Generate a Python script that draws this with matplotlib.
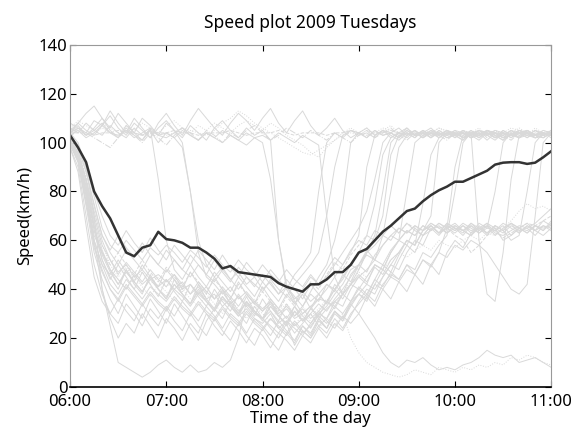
import matplotlib
matplotlib.use("Agg")
import matplotlib.pyplot as plt

plt.rcParams['font.family'] = ['Noto Sans', 'DejaVu Sans']

# 5-minute samples from 06:00 to 11:00
minutes = list(range(0, 301, 5))
hour_ticks = [0, 60, 120, 180, 240, 300]
hour_labels = ["06:00", "07:00", "08:00", "09:00", "10:00", "11:00"]

mean_speed = [103, 98, 92, 80, 74, 69, 62, 55, 53.5, 57, 58, 63.5,
              60.5, 60, 59, 57, 57, 55, 52.5, 48.5, 49.5, 47, 46.5, 46,
              45.5, 45, 42.5, 41, 40, 39, 42, 42, 44, 47, 47, 50,
              55, 56.5, 60, 63.5, 66, 69, 72, 73, 76, 78.5, 80.5, 82,
              84, 84, 85.5, 87, 88.5, 91, 91.8, 92, 92, 91.3, 91.8, 94, 96.5]

day_a = [100, 96, 85, 70, 58, 52, 47, 50, 45, 48, 44, 46,
         43, 46, 40, 42, 38, 41, 36, 39, 34, 37, 33, 35,
         31, 34, 29, 32, 28, 30, 33, 36, 35, 40, 44, 50,
         55, 62, 75, 95, 102, 104, 103, 105, 102, 104, 103, 105,
         103, 104, 102, 105, 103, 104, 102, 103, 105, 104, 103, 102, 104]
day_b = [101, 95, 80, 62, 55, 48, 44, 40, 46, 42, 45, 41,
         44, 40, 43, 38, 41, 36, 38, 33, 36, 31, 34, 30,
         28, 31, 26, 29, 25, 28, 24, 30, 33, 38, 42, 48,
         50, 54, 52, 58, 62, 65, 63, 66, 64, 67, 65, 66,
         64, 66, 63, 67, 65, 64, 66, 62, 65, 63, 66, 64, 68]
day_c = [104, 100, 90, 70, 40, 25, 10, 8, 6, 4, 6, 9,
         11, 8, 6, 9, 6, 7, 10, 8, 11, 20, 35, 30,
         28, 25, 22, 27, 24, 21, 26, 30, 28, 35, 33, 40,
         45, 42, 50, 48, 55, 60, 58, 65, 62, 64, 66, 63,
         65, 64, 62, 66, 63, 65, 60, 62, 65, 67, 64, 66, 65]
day_d = [104, 105, 103, 104, 106, 104, 103, 105, 104, 103, 105, 104,
         103, 104, 106, 105, 104, 103, 105, 108, 110, 113, 111, 108,
         106, 104, 102, 100, 98, 96, 95, 97, 99, 101, 103, 104,
         103, 105, 104, 106, 105, 103, 104, 105, 103, 104, 106, 104,
         103, 105, 104, 103, 104, 105, 103, 104, 106, 104, 103, 105, 104]
day_e = [105, 108, 112, 115, 110, 106, 112, 108, 104, 110, 107, 103,
         108, 105, 100, 80, 55, 45, 42, 38, 41, 36, 39, 35,
         32, 35, 30, 33, 29, 32, 28, 31, 35, 33, 38, 42,
         40, 45, 50, 48, 55, 60, 80, 100, 103, 105, 102, 104,
         103, 101, 104, 102, 105, 103, 101, 104, 102, 103, 105, 103, 104]
day_f = [102, 106, 104, 109, 107, 113, 108, 104, 110, 106, 102, 108,
         112, 107, 103, 109, 114, 110, 106, 103, 108, 112, 109, 105,
         110, 114, 108, 104, 109, 113, 107, 103, 106, 110, 105, 102,
         104, 106, 103, 105, 104, 102, 105, 103, 104, 106, 103, 105,
         104, 102, 105, 103, 104, 102, 105, 103, 104, 105, 103, 102, 104]
day_g = [104, 104, 104, 103, 104, 104, 105, 104, 104, 103, 104, 104,
         104, 105, 104, 104, 103, 104, 104, 104, 105, 104, 103, 104,
         104, 104, 105, 104, 103, 104, 104, 104, 103, 104, 104, 105,
         104, 103, 104, 104, 105, 104, 104, 103, 104, 104, 103, 104,
         104, 104, 103, 104, 105, 104, 104, 103, 104, 104, 103, 104, 104]
day_h = [100, 92, 75, 60, 50, 42, 38, 44, 40, 36, 41, 38,
         35, 40, 37, 33, 38, 35, 31, 36, 33, 29, 32, 28,
         26, 30, 24, 27, 22, 26, 30, 25, 28, 33, 30, 35,
         38, 42, 40, 45, 50, 55, 60, 58, 75, 95, 102, 104,
         103, 105, 102, 104, 103, 101, 104, 103, 102, 105, 103, 104, 103]
day_i = [98, 90, 70, 50, 38, 30, 26, 34, 30, 25, 32, 28,
         33, 29, 35, 31, 27, 33, 29, 24, 30, 27, 22, 28,
         25, 21, 27, 23, 19, 25, 22, 28, 24, 30, 27, 33,
         38, 35, 42, 48, 45, 52, 58, 55, 62, 66, 63, 67,
         65, 63, 67, 64, 66, 62, 65, 67, 63, 66, 64, 68, 66]
day_j = [102, 98, 88, 75, 62, 55, 50, 56, 52, 48, 54, 50,
         47, 52, 48, 45, 50, 46, 43, 48, 44, 40, 45, 42,
         39, 44, 40, 37, 42, 46, 50, 55, 70, 90, 103, 105,
         104, 102, 105, 103, 104, 106, 103, 104, 102, 105, 104, 103,
         105, 104, 102, 104, 103, 105, 104, 102, 104, 103, 105, 104, 103]
day_k = [103, 95, 80, 65, 55, 48, 44, 40, 45, 41, 37, 42,
         39, 35, 40, 36, 33, 38, 34, 30, 35, 32, 28, 33,
         30, 27, 32, 28, 25, 30, 27, 24, 28, 25, 30, 20,
         14, 10, 8, 6, 5, 4, 5, 7, 6, 5, 8, 7,
         6, 8, 7, 9, 8, 10, 9, 12, 11, 13, 12, 10, 9]
day_l = [101, 96, 85, 72, 60, 52, 46, 51, 47, 43, 48, 44,
         41, 46, 42, 38, 43, 39, 36, 41, 37, 33, 38, 34,
         31, 36, 32, 28, 33, 29, 26, 31, 27, 24, 29, 26,
         30, 25, 20, 14, 10, 8, 11, 10, 12, 9, 7, 8,
         7, 9, 10, 12, 15, 13, 12, 13, 10, 11, 12, 10, 8]
day_m = [104, 106, 103, 105, 108, 104, 102, 106, 103, 101, 105, 103,
         102, 104, 106, 103, 101, 104, 102, 100, 103, 101, 99, 102,
         100, 85, 60, 42, 35, 30, 33, 28, 32, 35, 38, 42,
         45, 48, 52, 50, 56, 60, 64, 62, 66, 64, 67, 65,
         63, 66, 64, 65, 67, 63, 62, 64, 66, 65, 67, 70, 73]
day_n = [99, 93, 78, 58, 48, 40, 36, 42, 38, 34, 39, 35,
         32, 37, 33, 30, 35, 31, 28, 33, 29, 26, 31, 27,
         24, 28, 25, 22, 27, 23, 20, 25, 22, 28, 24, 30,
         34, 38, 35, 42, 46, 44, 50, 48, 55, 53, 58, 62,
         80, 100, 104, 103, 105, 102, 104, 103, 105, 104, 102, 103, 105]
day_o = [103, 99, 90, 78, 65, 58, 55, 60, 56, 52, 57, 54,
         58, 55, 51, 56, 53, 49, 54, 50, 47, 52, 48, 45,
         50, 46, 43, 48, 44, 41, 46, 42, 45, 50, 55, 60,
         65, 72, 85, 100, 104, 102, 105, 103, 104, 102, 105, 103,
         104, 102, 104, 105, 103, 104, 102, 105, 103, 104, 102, 103, 104]
day_p = [106, 104, 108, 105, 103, 107, 104, 102, 106, 103, 105, 100,
         104, 102, 98, 80, 60, 50, 45, 49, 44, 47, 42, 45,
         40, 43, 38, 41, 36, 39, 35, 38, 42, 40, 45, 50,
         48, 55, 58, 62, 60, 65, 63, 66, 64, 67, 65, 63,
         66, 64, 62, 65, 63, 66, 64, 60, 62, 80, 100, 104, 103]
day_q = [100, 94, 80, 60, 40, 28, 20, 26, 22, 30, 25, 20,
         28, 24, 19, 26, 22, 30, 25, 21, 27, 23, 18, 24,
         21, 16, 22, 19, 15, 21, 18, 24, 20, 26, 23, 29,
         35, 40, 38, 45, 50, 48, 55, 60, 58, 65, 62, 66,
         64, 67, 65, 63, 66, 64, 67, 65, 63, 66, 64, 62, 65]
day_r = [102, 97, 86, 70, 58, 50, 45, 49, 44, 47, 42, 45,
         41, 44, 39, 42, 38, 41, 36, 39, 34, 37, 33, 36,
         32, 35, 31, 34, 30, 33, 29, 32, 36, 34, 39, 43,
         47, 45, 50, 48, 52, 55, 53, 56, 58, 56, 60, 58,
         57, 60, 62, 60, 63, 62, 65, 68, 72, 75, 73, 74, 72]
day_s = [103, 105, 102, 104, 107, 104, 103, 105, 102, 104, 106, 103,
         104, 102, 105, 103, 101, 104, 102, 105, 103, 101, 104, 102,
         103, 101, 104, 102, 100, 103, 101, 99, 70, 45, 38, 42,
         48, 55, 62, 80, 100, 104, 102, 105, 103, 104, 102, 105,
         103, 104, 102, 103, 105, 104, 102, 103, 104, 105, 103, 104, 103]
day_t = [101, 95, 82, 66, 54, 47, 42, 47, 43, 39, 44, 40,
         37, 42, 38, 34, 39, 35, 32, 37, 33, 30, 35, 31,
         28, 33, 29, 26, 31, 27, 30, 34, 31, 36, 40, 45,
         50, 55, 60, 70, 95, 103, 104, 102, 105, 103, 104, 102,
         103, 101, 104, 60, 38, 35, 55, 85, 103, 104, 102, 103, 104]
day_u = [108, 106, 104, 102, 100, 98, 102, 105, 103, 100, 104, 102,
         99, 103, 106, 104, 101, 105, 103, 100, 104, 102, 105, 107,
         104, 101, 103, 106, 104, 102, 105, 103, 101, 104, 102, 100,
         103, 105, 102, 104, 106, 103, 101, 104, 102, 105, 103, 101,
         104, 102, 103, 105, 102, 104, 103, 101, 104, 102, 105, 103, 104]
day_v = [100, 93, 76, 57, 47, 40, 35, 41, 37, 33, 38, 34,
         31, 36, 32, 29, 34, 30, 27, 32, 28, 25, 30, 26,
         23, 28, 24, 21, 26, 22, 25, 29, 26, 31, 28, 34,
         38, 36, 42, 40, 45, 43, 48, 46, 52, 50, 55, 53,
         58, 56, 60, 58, 55, 50, 45, 40, 38, 42, 70, 100, 104]
day_w = [102, 97, 84, 66, 52, 45, 40, 48, 42, 38, 46, 40,
         36, 44, 38, 34, 42, 36, 32, 40, 34, 30, 37, 31,
         28, 35, 29, 26, 33, 27, 32, 38, 34, 42, 38, 46,
         50, 56, 52, 62, 80, 98, 103, 105, 102, 104, 103, 105,
         102, 104, 103, 101, 104, 102, 105, 103, 104, 102, 104, 103, 105]
day_x = [100, 94, 78, 60, 50, 46, 52, 47, 43, 50, 45, 41,
         48, 44, 40, 47, 42, 38, 45, 40, 36, 43, 38, 34,
         41, 36, 32, 38, 34, 40, 45, 42, 48, 53, 50, 56,
         60, 58, 64, 62, 66, 63, 67, 64, 62, 66, 63, 65,
         67, 64, 66, 63, 65, 80, 100, 104, 102, 105, 103, 104, 102]
day_y = [99, 92, 74, 55, 44, 36, 30, 38, 33, 28, 36, 31,
         26, 34, 29, 24, 19, 27, 32, 28, 35, 30, 26, 33,
         28, 24, 20, 26, 17, 23, 20, 27, 24, 31, 28, 35,
         40, 37, 44, 50, 47, 54, 60, 58, 64, 66, 63, 67,
         65, 62, 66, 64, 67, 65, 63, 66, 64, 65, 62, 66, 64]
day_z = [103, 98, 88, 74, 62, 56, 62, 57, 53, 59, 54, 50,
         56, 52, 48, 54, 50, 46, 52, 47, 43, 49, 45, 41,
         46, 42, 38, 44, 40, 36, 42, 38, 34, 40, 36, 42,
         46, 43, 49, 46, 52, 55, 60, 58, 64, 70, 100, 104,
         102, 105, 103, 104, 101, 104, 103, 105, 102, 104, 103, 105, 104]
day_aa = [104, 107, 103, 106, 110, 105, 102, 107, 104, 101, 106, 85,
          60, 48, 44, 50, 45, 41, 47, 43, 39, 45, 41, 37,
          43, 39, 35, 41, 37, 33, 39, 45, 50, 60, 75, 100,
          104, 102, 105, 103, 104, 102, 106, 103, 104, 102, 105, 103,
          104, 102, 103, 105, 104, 102, 103, 105, 104, 103, 102, 104, 103]
day_ab = [98, 88, 66, 45, 35, 30, 36, 31, 27, 34, 29, 25,
          32, 27, 23, 30, 25, 21, 28, 23, 19, 26, 21, 17,
          24, 19, 15, 22, 18, 25, 21, 28, 24, 31, 27, 34,
          30, 37, 33, 40, 36, 43, 39, 46, 42, 50, 46, 55,
          60, 57, 63, 65, 62, 66, 64, 67, 65, 63, 66, 64, 67]
day_ac = [101, 94, 80, 64, 55, 50, 55, 50, 46, 52, 47, 43,
          49, 45, 41, 47, 43, 39, 44, 40, 36, 42, 38, 34,
          39, 35, 31, 37, 33, 38, 43, 40, 46, 51, 48, 54,
          58, 62, 60, 64, 66, 63, 67, 65, 64, 66, 63, 65,
          62, 60, 55, 58, 62, 64, 61, 63, 65, 67, 66, 68, 70]
day_ad = [104, 108, 105, 103, 107, 111, 106, 103, 108, 105, 102, 106,
          109, 105, 102, 107, 104, 101, 106, 109, 105, 102, 106, 103,
          105, 101, 60, 40, 34, 38, 32, 36, 40, 45, 50, 55,
          62, 90, 103, 105, 102, 104, 106, 103, 105, 102, 104, 103,
          105, 102, 104, 103, 105, 104, 102, 103, 105, 104, 102, 103, 104]
day_ae = [102, 99, 90, 80, 70, 62, 58, 64, 59, 55, 61, 56,
          52, 58, 54, 50, 56, 52, 48, 54, 49, 45, 51, 47,
          43, 48, 44, 40, 46, 50, 55, 80, 100, 104, 102, 105,
          103, 104, 102, 105, 103, 101, 104, 102, 105, 103, 104, 102,
          104, 103, 105, 102, 104, 103, 101, 104, 102, 105, 103, 104, 103]
day_af = [100, 95, 82, 64, 52, 44, 50, 45, 40, 47, 42, 37,
          44, 39, 35, 42, 37, 33, 40, 35, 31, 38, 33, 29,
          36, 31, 27, 34, 29, 33, 38, 35, 42, 39, 46, 43,
          50, 47, 54, 58, 62, 60, 64, 62, 66, 64, 67, 65,
          66, 64, 67, 65, 63, 66, 64, 67, 65, 64, 66, 65, 66]
day_ag = [106, 109, 107, 105, 108, 106, 104, 107, 105, 108, 106, 104,
          107, 109, 106, 104, 107, 105, 108, 106, 104, 107, 109, 107,
          105, 108, 106, 103, 101, 99, 96, 94, 98, 101, 104, 106,
          104, 106, 103, 105, 107, 104, 106, 103, 105, 104, 106, 105,
          103, 105, 104, 106, 103, 105, 104, 106, 105, 103, 106, 104, 105]
day_ah = [101, 96, 84, 68, 56, 48, 42, 48, 43, 39, 45, 40,
          36, 42, 38, 34, 40, 35, 31, 37, 33, 29, 35, 31,
          27, 33, 29, 25, 31, 27, 32, 29, 35, 32, 38, 35,
          41, 38, 44, 41, 47, 44, 50, 46, 52, 49, 55, 65,
          90, 103, 104, 102, 105, 103, 104, 102, 105, 104, 103, 102, 104]

days = [day_a, day_b, day_c, day_d, day_e, day_f, day_g, day_h, day_i, day_j,
        day_k, day_l, day_m, day_n, day_o, day_p, day_q, day_r, day_s, day_t,
        day_u, day_v, day_w, day_x, day_y, day_z, day_aa, day_ab, day_ac, day_ad,
        day_ae, day_af, day_ag, day_ah]
styles = ['-', '-', '-', ':', '-', '-', '--', '-', '-', '-',
          ':', '-', '-', '-', '-', '-', '-', ':', '-', '-',
          '-.', '-', '-', '-', '-', '-', '-', '-', '--', '-',
          '-', '-', ':', '-']

fig = plt.figure(figsize=(5.79, 4.28), dpi=100)
ax = fig.add_axes([0.121, 0.096, 0.831, 0.799])

for d, ls in zip(days, styles):
    ax.plot(minutes, d, color='#d9d9d9', lw=0.7, ls=ls)
ax.plot(minutes, mean_speed, color='#333333', lw=1.8)

ax.set_xlim(0, 300)
ax.set_ylim(0, 140)
ax.set_xticks(hour_ticks)
ax.set_xticklabels(hour_labels)
ax.set_yticks(range(0, 141, 20))
ax.tick_params(direction='in', top=True, right=True, labelsize=12, length=4)
ax.tick_params(axis='x', pad=5)
ax.tick_params(axis='y', pad=2)

for side in ['left', 'top', 'right']:
    ax.spines[side].set_color('#999999')
    ax.spines[side].set_linewidth(0.8)
ax.spines['bottom'].set_color('black')
ax.spines['bottom'].set_linewidth(1.2)

ax.set_title("Speed plot 2009 Tuesdays", fontsize=12.5, pad=12)
ax.set_xlabel("Time of the day", fontsize=12, labelpad=1)
ax.set_ylabel("Speed(km/h)", fontsize=12, labelpad=4)

fig.savefig("out.png", dpi=100)
